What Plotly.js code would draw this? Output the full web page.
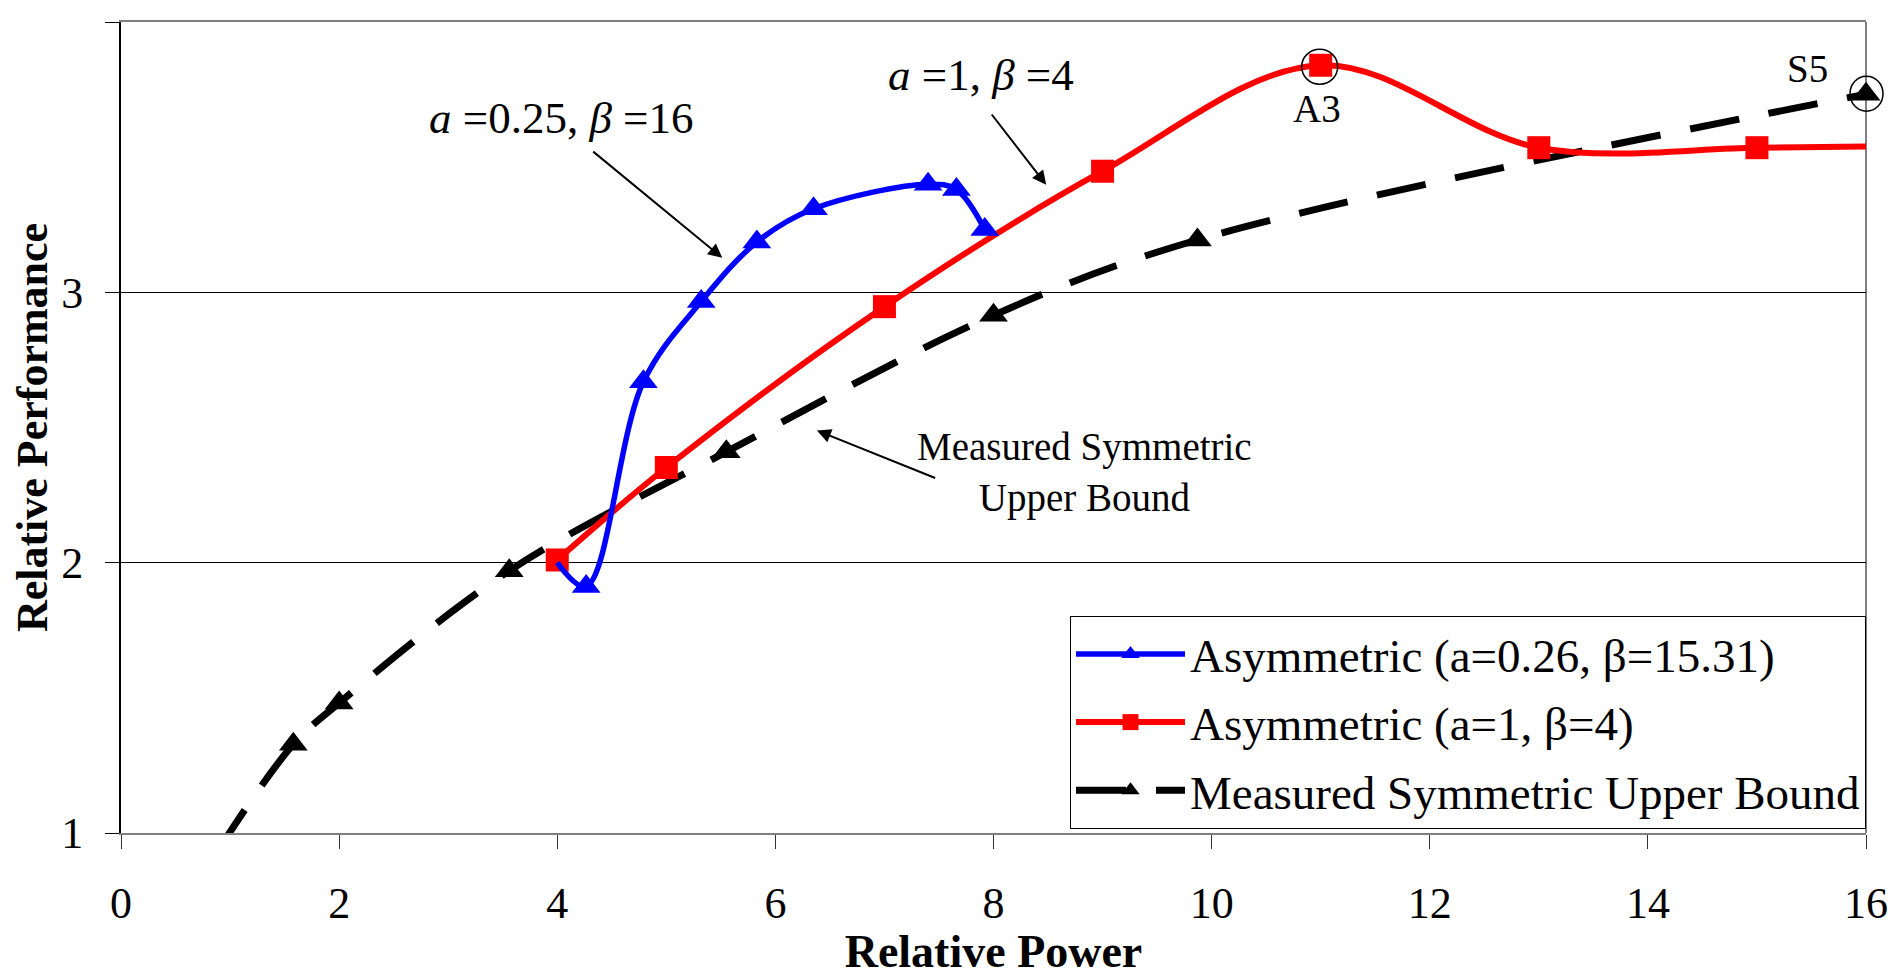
<!DOCTYPE html>
<html><head><meta charset="utf-8">
<script src="https://cdn.plot.ly/plotly-3.0.1.min.js"></script>
<style>html,body{margin:0;padding:0;background:#fff;} #chart{width:1895px;height:977px;}</style>
</head><body><div id="chart"></div>
<script>
// ---- data ----
const blueName = 'Asymmetric (a=0.26, β=15.31)';
const redName = 'Asymmetric (a=1, β=4)';
const blackName = 'Measured Symmetric Upper Bound';
const blueX = [4.0, 4.265, 4.79, 5.32, 5.83, 6.35, 7.40, 7.66, 7.92];
const blueY = [2.0, 1.912, 2.669, 2.966, 3.186, 3.309, 3.400, 3.380, 3.232];
const redX = [4, 5, 7, 9, 11, 13, 15, 16.12];
const redY = [2.01, 2.352, 2.947, 3.448, 3.840, 3.535, 3.535, 3.54];
const blackX = [0.88, 1.58, 2.0, 3.56, 5.55, 8.0, 9.87, 16.0];
const blackY = [0.93, 1.328, 1.481, 1.97, 2.41, 2.915, 3.194, 3.733];
const xTicks = [0, 2, 4, 6, 8, 10, 12, 14, 16];
const yTicks = [1, 2, 3, 4];
const xTitle = 'Relative Power';
const yTitle = 'Relative Performance';

const FONT = 'Liberation Serif, Times New Roman, serif';
const yMin = yTicks[0], yMax = yTicks[yTicks.length - 1];

const blackTrace = {
  x: blackX, y: blackY, name: blackName, type: 'scatter', mode: 'lines+markers',
  line: {color: '#000', width: 7, dash: '50px,30px', shape: 'spline', smoothing: 1},
  marker: {symbol: 'triangle-up', color: '#000', opacity: 1, line: {width: 0},
           size: blackX.map((v, i) => i === 0 ? 0 : 25)},
  cliponaxis: false, legendrank: 3, legendgroup: 'c'
};
const redTrace = {
  x: redX, y: redY, name: redName, type: 'scatter', mode: 'lines+markers',
  line: {color: '#ff0000', width: 6, shape: 'spline', smoothing: 1},
  marker: {symbol: 'square', color: '#ff0000', opacity: 1, line: {width: 0},
           size: redX.map((v, i) => i === redX.length - 1 ? 0 : 23)},
  legendrank: 2, legendgroup: 'b'
};
const blueTrace = {
  x: blueX, y: blueY, name: blueName, type: 'scatter', mode: 'lines+markers',
  line: {color: '#0000ff', width: 5.5, shape: 'spline', smoothing: 1},
  marker: {symbol: 'triangle-up', color: '#0000ff', opacity: 1, line: {width: 0},
           size: blueX.map((v, i) => i === 0 ? 0 : 25)},
  legendrank: 1, legendgroup: 'a'
};

const iPeak = 4; // A3 point of red series
const iS5 = blackX.length - 1; // S5 point of black series

const arrowStyle = {showarrow: true, arrowhead: 2, arrowsize: 1.4, arrowwidth: 2, arrowcolor: '#000',
  axref: 'x', ayref: 'y', xref: 'x', yref: 'y', text: ' ', font: {size: 1}, standoff: 0, startstandoff: 0};

const layout = {
  width: 1895, height: 977,
  paper_bgcolor: '#fff', plot_bgcolor: '#fff',
  margin: {l: 121, r: 29, t: 22, b: 144},
  font: {family: FONT, color: '#000', size: 44},
  showlegend: true,
  legend: {
    x: 1, xanchor: 'right', y: 0.005, yanchor: 'bottom',
    bgcolor: '#fff', bordercolor: '#000', borderwidth: 1,
    font: {family: FONT, size: 47, color: '#000'},
    itemwidth: 109, traceorder: 'grouped', tracegroupgap: 4
  },
  xaxis: {
    range: [0, 16], tickvals: xTicks, ticktext: xTicks.map(String),
    showline: true, linecolor: '#808080', linewidth: 2, mirror: true,
    ticks: 'outside', ticklen: 14, tickcolor: '#333', tickwidth: 1,
    showgrid: false, zeroline: false, ticklabelstandoff: 16,
    tickfont: {family: FONT, size: 44, color: '#000'},
    title: {text: xTitle, font: {family: FONT, size: 46, color: '#000', weight: 700}, standoff: 22}
  },
  yaxis: {
    range: [yMin, yMax], tickvals: yTicks, ticktext: yTicks.map(String),
    showline: true, linecolor: '#000', linewidth: 2,
    ticks: 'outside', ticklen: 14, tickcolor: '#000', tickwidth: 1,
    showgrid: true, gridcolor: '#000', gridwidth: 1.2, zeroline: false, ticklabelstandoff: 13,
    tickfont: {family: FONT, size: 44, color: '#000'},
    title: {text: yTitle, font: {family: FONT, size: 44, color: '#000', weight: 700}, standoff: 0}
  },
  shapes: [
    {type: 'line', xref: 'paper', yref: 'paper', x0: 1, x1: 1, y0: 0, y1: 1, layer: 'below',
     line: {color: '#808080', width: 2}},
    {type: 'circle', xref: 'x', yref: 'y', xsizemode: 'pixel', ysizemode: 'pixel',
     xanchor: redX[iPeak], yanchor: redY[iPeak], x0: -19, x1: 17, y0: -19, y1: 16,
     line: {color: '#000', width: 1.5}, layer: 'above'},
    {type: 'circle', xref: 'paper', yref: 'paper', xsizemode: 'pixel', ysizemode: 'pixel',
     xanchor: 1, yanchor: (blackY[iS5] - yMin) / (yMax - yMin), x0: -16, x1: 17, y0: -17, y1: 18,
     line: {color: '#000', width: 1.5}, layer: 'above'}
  ],
  annotations: [
    {xref: 'x', yref: 'y', x: 4.03, y: 3.646, text: '<i>a</i> =0.25, <i>β</i> =16', showarrow: false,
     font: {family: FONT, size: 45, color: '#000'}},
    Object.assign({}, arrowStyle, {x: 5.513, y: 3.128, ax: 4.316, ay: 3.525}),
    {xref: 'x', yref: 'y', x: 7.887, y: 3.805, text: '<i>a</i> =1, <i>β</i> =4', showarrow: false,
     font: {family: FONT, size: 45, color: '#000'}},
    Object.assign({}, arrowStyle, {x: 8.483, y: 3.398, ax: 7.97, ay: 3.665}),
    {xref: 'x', yref: 'y', x: 8.83, y: 2.335, text: 'Measured Symmetric<br>Upper Bound', showarrow: false,
     font: {family: FONT, size: 39, color: '#000'}},
    Object.assign({}, arrowStyle, {x: 6.381, y: 2.489, ax: 7.479, ay: 2.311}),
    {xref: 'x', yref: 'y', x: redX[iPeak], y: redY[iPeak], xshift: -4, yshift: -43, text: 'A3', showarrow: false,
     font: {family: FONT, size: 39, color: '#000'}},
    {xref: 'x', yref: 'y', x: blackX[iS5], y: blackY[iS5], xshift: -59, yshift: 26, text: 'S5', showarrow: false,
     font: {family: FONT, size: 39, color: '#000'}}
  ]
};

Plotly.newPlot('chart', [blackTrace, redTrace, blueTrace], layout, {displayModeBar: false, staticPlot: true});
</script>
</body></html>
